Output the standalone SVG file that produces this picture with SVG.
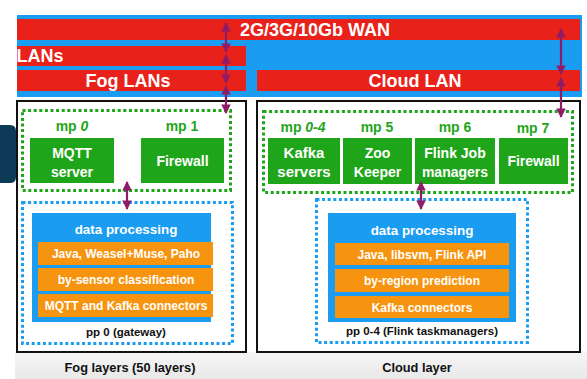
<svg xmlns="http://www.w3.org/2000/svg" width="587" height="379" viewBox="0 0 587 379">
<defs>
<linearGradient id="gray" x1="0" y1="0" x2="0" y2="1">
<stop offset="0" stop-color="#f6f6f6"/>
<stop offset="1" stop-color="#e8e8e8"/>
</linearGradient>
<marker id="ah" viewBox="0 0 10 10" refX="9" refY="5" markerWidth="4.3" markerHeight="4.3" orient="auto-start-reverse" markerUnits="strokeWidth">
<path d="M0,0 L10,5 L0,10 Z" fill="#8e1c67"/>
</marker>
</defs>
<style>
text{font-family:"Liberation Sans",Arial,sans-serif;font-weight:bold;text-anchor:middle}
.red{fill:#e8211a}
.band{fill:#ffffff;font-size:18px}
.box{fill:none;stroke:#111;stroke-width:2}
.gdot{fill:none;stroke:#1fa51a;stroke-width:3;stroke-dasharray:3 2.6}
.bdot{fill:none;stroke:#1a9cf0;stroke-width:3;stroke-dasharray:3 2.6}
.green{fill:#1fa51a}
.mp{fill:#1fa51a;font-size:14px}
.wt{fill:#fff;font-size:14px}
.blue{fill:#1a9cf0}
.orange{fill:#f7940f}
.ot{fill:#fff;font-size:12px}
.dp{fill:#fff;font-size:13.4px}
.pp{fill:#111;font-size:11.5px}
.cap{fill:#111;font-size:12.8px}
.arr{stroke:#8e1c67;stroke-width:2.2;fill:none;marker-start:url(#ah);marker-end:url(#ah)}
</style>
<rect width="587" height="379" fill="#fff"/>
<rect x="15" y="352" width="572" height="27" fill="url(#gray)"/>
<path d="M0,125 H10 Q16,125 16,131 V177 Q16,183 10,183 H0 Z" fill="#0c3a57"/>

<g id="network">
<rect x="17" y="15" width="565" height="82" class="blue"/>
<g id="wan"><rect x="17" y="19" width="563" height="21" class="red"/><text x="315" y="36" class="band">2G/3G/10Gb WAN</text></g>
<g id="lans"><rect x="17" y="46" width="229" height="20" class="red"/><text x="40" y="62" class="band">LANs</text></g>
<g id="fog-lans"><rect x="17" y="70" width="229" height="21" class="red"/><text x="128" y="87" class="band">Fog LANs</text></g>
<g id="cloud-lan"><rect x="257" y="70" width="323" height="21" class="red"/><text x="415" y="87" class="band">Cloud LAN</text></g>
</g>

<g id="fog-layer">
<rect x="17" y="101" width="229" height="251" class="box"/>
<text x="130" y="372" class="cap">Fog layers (50 layers)</text>
</g>
<g id="cloud-layer">
<rect x="257" y="101" width="323" height="251" class="box"/>
<text x="417" y="372" class="cap">Cloud layer</text>
</g>

<g id="fog-mp">
<rect x="22.5" y="110.5" width="208" height="80" class="gdot"/>
</g>
<g id="mqtt">
<text x="72" y="131" class="mp">mp <tspan font-style="italic">0</tspan></text>
<rect x="30" y="138" width="84" height="45" class="green"/>
<text x="72" y="158" class="wt">MQTT</text><text x="72" y="177" class="wt">server</text>
</g>
<g id="fog-firewall">
<text x="182" y="131" class="mp">mp 1</text>
<rect x="141" y="138" width="83" height="45" class="green"/>
<text x="182.5" y="166" class="wt">Firewall</text>
</g>

<g id="cloud-mp">
<rect x="263.5" y="111.5" width="309" height="81" class="gdot"/>
</g>
<g id="kafka">
<text x="303" y="132" class="mp">mp <tspan font-style="italic">0-4</tspan></text>
<rect x="268" y="138" width="72" height="46" class="green"/>
<text x="304" y="158" class="wt" style="font-size:15px">Kafka</text><text x="304" y="177" class="wt" style="font-size:15px">servers</text>
</g>
<g id="zookeeper">
<text x="377" y="132" class="mp">mp 5</text>
<rect x="343" y="138" width="69" height="46" class="green"/>
<text x="377.5" y="158" class="wt">Zoo</text><text x="377.5" y="177" class="wt">Keeper</text>
</g>
<g id="flink-jm">
<text x="455" y="132" class="mp">mp 6</text>
<rect x="415" y="138" width="80" height="46" class="green"/>
<text x="455" y="158" class="wt">Flink Job</text><text x="455" y="177" class="wt">managers</text>
</g>
<g id="cloud-firewall">
<text x="533" y="133" class="mp">mp 7</text>
<rect x="499" y="138" width="69" height="46" class="green"/>
<text x="533.5" y="166" class="wt">Firewall</text>
</g>

<g id="fog-pp">
<rect x="22.5" y="202.5" width="210" height="141" class="bdot"/>
<rect x="32" y="213" width="179" height="109" class="blue"/>
<text x="126" y="234" class="dp">data processing</text>
<rect x="38" y="242" width="175" height="23" class="orange"/>
<text x="126" y="258" class="ot">Java, Weasel+Muse, Paho</text>
<rect x="38" y="268" width="175" height="23" class="orange"/>
<text x="126" y="284" class="ot">by-sensor classification</text>
<rect x="38" y="294" width="175" height="23" class="orange"/>
<text x="126" y="310" class="ot">MQTT and Kafka connectors</text>
<text x="126" y="336" class="pp">pp 0 (gateway)</text>
</g>

<g id="cloud-pp">
<rect x="316.5" y="199.5" width="211" height="143" class="bdot"/>
<rect x="328" y="213" width="188" height="109" class="blue"/>
<text x="422" y="235" class="dp">data processing</text>
<rect x="335" y="243" width="174" height="22" class="orange"/>
<text x="422" y="259" class="ot">Java, libsvm, Flink API</text>
<rect x="335" y="269" width="174" height="23" class="orange"/>
<text x="422" y="285" class="ot">by-region prediction</text>
<rect x="335" y="296" width="174" height="22" class="orange"/>
<text x="422" y="312" class="ot">Kafka connectors</text>
<text x="422" y="335" class="pp">pp 0-4 (Flink taskmanagers)</text>
</g>

<g id="connectors">
<line x1="226" y1="23" x2="226" y2="52" class="arr"/>
<line x1="226" y1="55" x2="226" y2="83" class="arr"/>
<line x1="226" y1="86" x2="226" y2="113" class="arr"/>
<line x1="561" y1="29" x2="561" y2="74" class="arr"/>
<line x1="561" y1="78" x2="561" y2="117" class="arr"/>
<line x1="127" y1="182" x2="127" y2="209" class="arr"/>
<line x1="421" y1="182" x2="421" y2="209" class="arr"/>
</g>
</svg>
